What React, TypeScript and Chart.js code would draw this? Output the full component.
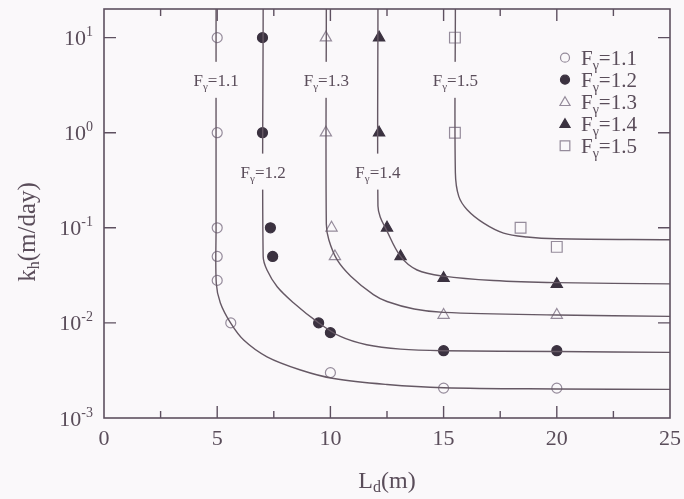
import React, { useEffect, useRef } from "react";
import { Chart, registerables } from "chart.js";

Chart.register(...registerables);

// ---- measured points (L_d in m, k_h in m/day) ----
const F11_L = [5, 5, 5, 5, 5, 5.6, 10, 15, 20];
const F11_K = [10, 1, 0.1, 0.05, 0.028, 0.01, 0.003, 0.00206, 0.00206];

const F12_L = [7, 7, 7.35, 7.45, 9.48, 10, 15, 20];
const F12_K = [10, 1, 0.1, 0.05, 0.01, 0.0079, 0.0051, 0.0051];

const F13_L = [9.8, 9.8, 10.05, 10.2, 15, 20];
const F13_K = [10, 1, 0.1, 0.05, 0.0121, 0.0121];

const F14_L = [12.15, 12.15, 12.5, 13.1, 15, 20];
const F14_K = [10, 1, 0.1, 0.05, 0.0295, 0.0255];

const F15_L = [15.5, 15.5, 18.4, 20];
const F15_K = [10, 1, 0.1, 0.063];

// ---- fitted curves ----
const C11_L = [4.95, 4.95, 4.96, 5.14, 5.59, 6.17, 7.2, 8.68, 10.15, 12.5, 15, 20, 25];
const C11_K = [20, 0.1, 0.026, 0.0162, 0.01, 0.0066, 0.0044, 0.0032, 0.0026, 0.00225, 0.00208, 0.00202, 0.002];

const C12_L = [7.03, 7.03, 7.2, 7.65, 8.38, 9.41, 10.44, 11.6, 13.1, 15, 20, 25];
const C12_K = [20, 0.05, 0.036, 0.024, 0.0162, 0.0103, 0.0072, 0.0059, 0.0053, 0.0051, 0.005, 0.0049];

const C13_L = [9.82, 9.82, 9.93, 10.3, 10.9, 11.9, 12.5, 13.7, 15, 20, 25];
const C13_K = [20, 0.11, 0.075, 0.046, 0.031, 0.0198, 0.0168, 0.014, 0.0129, 0.0121, 0.0117];

const C14_L = [12.1, 12.1, 12.2, 12.43, 13.1, 13.83, 15, 17.2, 20, 25];
const C14_K = [20, 0.17, 0.13, 0.1, 0.05, 0.036, 0.031, 0.0279, 0.0265, 0.0257];

const C15_L = [15.52, 15.52, 15.67, 16.04, 16.77, 17.65, 18.68, 20, 25];
const C15_K = [20, 0.38, 0.214, 0.155, 0.112, 0.088, 0.08, 0.0766, 0.0748];

// ---- labels and axes ----
const SERIES_NAMES = ["1.1", "1.2", "1.3", "1.4", "1.5"];
const CURVE_LABEL_L = [4.95, 7.03, 9.82, 12.1, 15.52];
const CURVE_LABEL_K = [3.6, 0.39, 3.6, 0.39, 3.6];

const X_TICK_VALUES = [0, 5, 10, 15, 20, 25];
const X_MINOR_TICKS = [2.5, 7.5, 12.5, 17.5, 22.5];
const Y_TICK_VALUES = [10, 1, 0.1, 0.01, 0.001];
const Y_TICK_EXPONENTS = ["1", "0", "-1", "-2", "-3"];

const X_MIN = 0;
const X_MAX = 25;
const Y_MIN = 0.001;
const Y_MAX = 20;

// ---- styling ----
const BG = "#faf8fa";
const INK = "#5a4d5a";
const LINE = "#655864";
const FRAME = "#5e5060";
const DARK = "#3b3240";
const OPEN = "#958b9b";
const FONT = '"Liberation Serif", "Times New Roman", serif';

type Seg = { text: string; size: number; dy?: number };

function drawRich(
  ctx: CanvasRenderingContext2D,
  segs: Seg[],
  x: number,
  y: number,
  align: "left" | "center" | "right"
) {
  let total = 0;
  for (const s of segs) {
    ctx.font = `${s.size}px ${FONT}`;
    total += ctx.measureText(s.text).width;
  }
  let cx = align === "left" ? x : align === "center" ? x - total / 2 : x - total;
  for (const s of segs) {
    ctx.font = `${s.size}px ${FONT}`;
    ctx.fillText(s.text, cx, y + (s.dy || 0));
    cx += ctx.measureText(s.text).width;
  }
  return total;
}

const MARKERS = [
  { style: "circle", filled: false, radius: 5 },
  { style: "circle", filled: true, radius: 5 },
  { style: "triangle", filled: false, radius: 6.5 },
  { style: "triangle", filled: true, radius: 6.5 },
  { style: "rect", filled: false, radius: 7.6 },
];

function toPoints(xs: number[], ys: number[]) {
  return xs.map((x, i) => ({ x, y: ys[i] }));
}

const CURVES = [
  toPoints(C11_L, C11_K),
  toPoints(C12_L, C12_K),
  toPoints(C13_L, C13_K),
  toPoints(C14_L, C14_K),
  toPoints(C15_L, C15_K),
];
const POINTS = [
  toPoints(F11_L, F11_K),
  toPoints(F12_L, F12_K),
  toPoints(F13_L, F13_K),
  toPoints(F14_L, F14_K),
  toPoints(F15_L, F15_K),
];

function drawMarker(
  ctx: CanvasRenderingContext2D,
  style: string,
  r: number,
  x: number,
  y: number,
  filled: boolean
) {
  ctx.beginPath();
  if (style === "circle") {
    ctx.arc(x, y, r, 0, Math.PI * 2);
  } else if (style === "triangle") {
    for (let k = 0; k < 3; k++) {
      const a = -Math.PI / 2 + (k * 2 * Math.PI) / 3;
      const px = x + Math.cos(a) * r;
      const py = y + Math.sin(a) * r + r * 0.15;
      if (k === 0) ctx.moveTo(px, py);
      else ctx.lineTo(px, py);
    }
    ctx.closePath();
  } else {
    const s = r * Math.SQRT1_2;
    ctx.rect(x - s, y - s, 2 * s, 2 * s);
  }
  if (filled) ctx.fill();
  ctx.stroke();
}

const decorPlugin = {
  id: "decor",
  beforeDraw(chart: any) {
    const ctx = chart.ctx as CanvasRenderingContext2D;
    ctx.save();
    ctx.fillStyle = BG;
    ctx.fillRect(0, 0, chart.width, chart.height);
    ctx.restore();
  },
  afterDatasetsDraw(chart: any) {
    const ctx = chart.ctx as CanvasRenderingContext2D;
    const xs = chart.scales.x;
    const ys = chart.scales.y;
    const { left, right, top, bottom } = chart.chartArea;
    ctx.save();
    ctx.textBaseline = "alphabetic";
    ctx.textAlign = "left";

    // curve labels, each cutting a gap in its vertical line
    SERIES_NAMES.forEach((name, i) => {
      const cx = xs.getPixelForValue(CURVE_LABEL_L[i]);
      const cy = ys.getPixelForValue(CURVE_LABEL_K[i]);
      ctx.fillStyle = BG;
      ctx.fillRect(cx - 4, cy - 18, 8, 36);
      ctx.fillStyle = INK;
      drawRich(
        ctx,
        [
          { text: "F", size: 17 },
          { text: "γ", size: 11, dy: 4 },
          { text: "=" + name, size: 17 },
        ],
        cx,
        cy + 6,
        "center"
      );
    });

    // frame
    ctx.strokeStyle = FRAME;
    ctx.lineWidth = 1.6;
    ctx.strokeRect(left, top, right - left, bottom - top);

    // inward ticks
    ctx.lineWidth = 1.4;
    ctx.beginPath();
    Y_TICK_VALUES.forEach((v) => {
      const py = ys.getPixelForValue(v);
      if (py <= top + 1 || py >= bottom - 1) return;
      ctx.moveTo(left, py);
      ctx.lineTo(left + 12, py);
      ctx.moveTo(right, py);
      ctx.lineTo(right - 12, py);
    });
    X_TICK_VALUES.forEach((v) => {
      const px = xs.getPixelForValue(v);
      if (px <= left + 1 || px >= right - 1) return;
      ctx.moveTo(px, bottom);
      ctx.lineTo(px, bottom - 12);
      ctx.moveTo(px, top);
      ctx.lineTo(px, top + 12);
    });
    X_MINOR_TICKS.forEach((v) => {
      const px = xs.getPixelForValue(v);
      ctx.moveTo(px, bottom);
      ctx.lineTo(px, bottom - 7);
      ctx.moveTo(px, top);
      ctx.lineTo(px, top + 7);
    });
    ctx.stroke();

    // tick labels
    ctx.fillStyle = INK;
    Y_TICK_VALUES.forEach((v, i) => {
      const py = ys.getPixelForValue(v);
      drawRich(
        ctx,
        [
          { text: "10", size: 22 },
          { text: Y_TICK_EXPONENTS[i], size: 14, dy: -9 },
        ],
        left - 11,
        py + 7.5,
        "right"
      );
    });
    X_TICK_VALUES.forEach((v) => {
      const px = xs.getPixelForValue(v);
      drawRich(ctx, [{ text: String(v), size: 22 }], px, bottom + 27, "center");
    });

    // axis titles
    drawRich(
      ctx,
      [
        { text: "L", size: 24 },
        { text: "d", size: 16, dy: 4 },
        { text: "(m)", size: 24 },
      ],
      (left + right) / 2,
      bottom + 70,
      "center"
    );
    ctx.save();
    ctx.translate(35, 232);
    ctx.rotate(-Math.PI / 2);
    drawRich(
      ctx,
      [
        { text: "k", size: 25 },
        { text: "h", size: 16, dy: 4 },
        { text: "(m/day)", size: 25 },
      ],
      0,
      0,
      "center"
    );
    ctx.restore();

    // legend
    SERIES_NAMES.forEach((name, i) => {
      const m = MARKERS[i];
      const ly = 57.7 + i * 22;
      ctx.fillStyle = DARK;
      ctx.strokeStyle = m.filled ? DARK : OPEN;
      ctx.lineWidth = 1.2;
      drawMarker(ctx, m.style, m.radius * 0.9, 565, ly, m.filled);
      ctx.fillStyle = INK;
      drawRich(
        ctx,
        [
          { text: "F", size: 21 },
          { text: "γ", size: 14, dy: 5 },
          { text: "=" + name, size: 21 },
        ],
        581,
        ly + 7,
        "left"
      );
    });

    ctx.restore();
  },
};

export default function App() {
  const ref = useRef<HTMLCanvasElement>(null);

  useEffect(() => {
    document.body.style.margin = "0";
    document.body.style.background = BG;
    const canvas = ref.current;
    if (!canvas) return;

    const datasets: any[] = [];
    CURVES.forEach((pts, i) => {
      datasets.push({
        label: "curve " + SERIES_NAMES[i],
        data: pts,
        showLine: true,
        borderColor: LINE,
        borderWidth: 1.4,
        pointRadius: 0,
        tension: 0.35,
        fill: false,
      });
    });
    POINTS.forEach((pts, i) => {
      const m = MARKERS[i];
      datasets.push({
        label: "F=" + SERIES_NAMES[i],
        data: pts,
        showLine: false,
        pointStyle: m.style,
        pointRadius: m.radius,
        pointBorderWidth: 1.2,
        pointBackgroundColor: m.filled ? DARK : "rgba(0,0,0,0)",
        pointBorderColor: m.filled ? DARK : OPEN,
      });
    });

    const chart = new Chart(canvas, {
      type: "scatter",
      data: { datasets },
      plugins: [decorPlugin],
      options: {
        responsive: false,
        animation: false,
        layout: { padding: { left: 104, right: 14, top: 9, bottom: 81 } },
        plugins: {
          legend: { display: false },
          tooltip: { enabled: false },
        },
        scales: {
          x: { type: "linear", min: X_MIN, max: X_MAX, display: false },
          y: { type: "logarithmic", min: Y_MIN, max: Y_MAX, display: false },
        },
      },
    } as any);

    return () => chart.destroy();
  }, []);

  return <canvas ref={ref} width={684} height={499} style={{ display: "block" }} />;
}
